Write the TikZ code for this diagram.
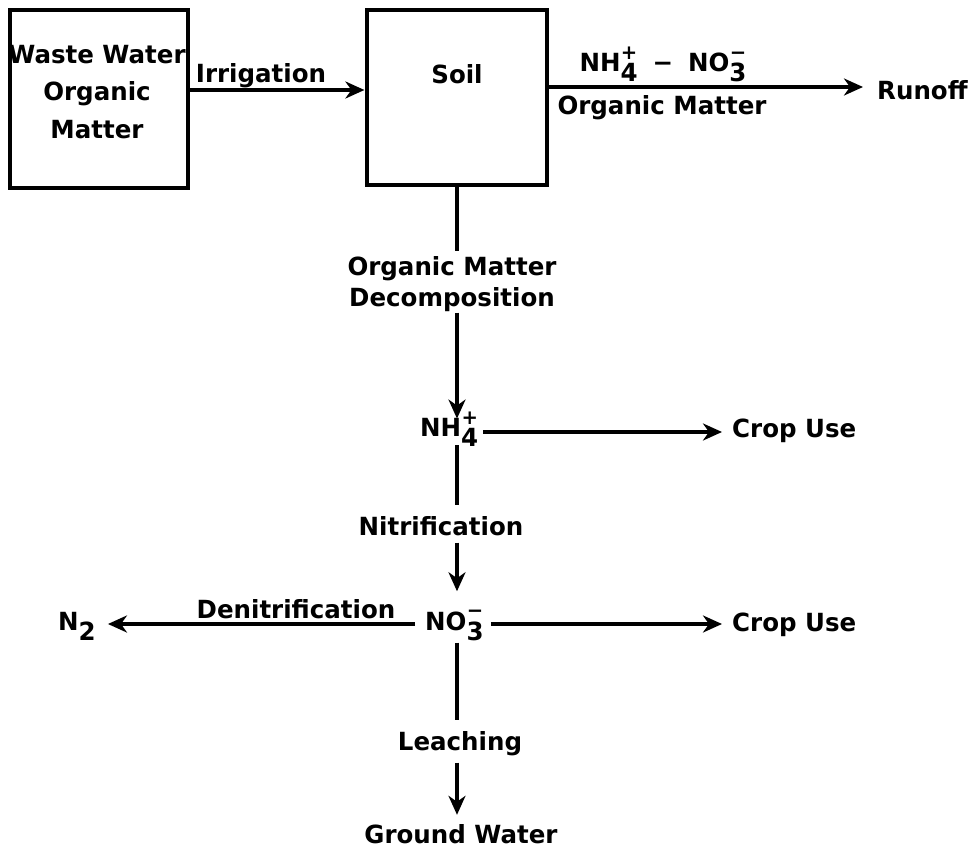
\documentclass[tikz,border=0pt]{standalone}
\usepackage{fontspec}
\setmainfont{DejaVu Sans Bold}[FakeStretch=0.98]
\usetikzlibrary{arrows.meta,calc}
\newcommand{\ionx}[3]{#1\mbox{\ooalign{\raisebox{-0.4em}{#2}\cr\hfil\raisebox{0.5em}{\fontsize{20}{20}\selectfont #3}\hfil\cr}}}
\tikzset{
  lbl/.style={font=\fontsize{25}{37.5}\selectfont, inner sep=0pt, align=center},
  boxx/.style={draw, line width=3.2pt},
  ln/.style={line width=3.2pt},
  arr/.style={line width=3.2pt, -{Stealth[length=19pt,width=17pt,inset=6pt]}},
}
\begin{document}
\begin{tikzpicture}[x=1pt,y=-1pt]
\useasboundingbox (0,0) rectangle (978,850);
\coordinate (axis) at (457,0);
% boxes
\node[boxx, minimum width=178pt, minimum height=178pt, inner sep=0pt] (ww) at (99,99) {};
\node[lbl, anchor=north] (wwtxt) at (97,45) {Waste Water\\Organic\\Matter};
\node[boxx, minimum width=180pt, minimum height=175pt, inner sep=0pt] (soil) at (457,97.5) {};
\node[lbl, anchor=base] (soiltxt) at (457,84) {Soil};
% irrigation
\node[lbl, anchor=base] (irr) at (261,83) {Irrigation};
\draw[arr, shorten >=1pt] (ww.east |- 0,90) -- (soil.west |- 0,90);
% runoff
\node[lbl, anchor=base west] (runoff) at (877,100) {Runoff};
\draw[arr, shorten >=14pt] (soil.east |- 0,87) -- (runoff.west |- 0,87);
\node[lbl, anchor=base] (ionsrun) at (663,72) {\ionx{NH}{4}{+}\hspace{0.6em}−\hspace{0.6em}\ionx{NO}{3}{−}};
\node[lbl, anchor=base] (omrun) at (662,115) {Organic Matter};
% decomposition
\node[lbl, anchor=north, font=\fontsize{25}{31}\selectfont] (omd) at (452,256) {Organic Matter\\Decomposition};
\node[lbl, anchor=base west] (nh4) at (420,437) {\ionx{NH}{4}{+}};
\draw[ln, shorten >=5pt] (soil.south -| axis) -- (omd.north -| axis);
\draw[arr, shorten <=1pt] (omd.south -| axis) -- (nh4.north -| axis);
% crop use 1
\node[lbl, anchor=base west] (cu1) at (732,438) {Crop Use};
\draw[arr, shorten <=5pt, shorten >=10pt] (nh4.east |- 0,432) -- (cu1.west |- 0,432);
% nitrification
\node[lbl, anchor=base] (nitr) at (441,535) {Nitrification};
\node[lbl, anchor=base west] (no3) at (425,630) {\ionx{NO}{3}{−}};
\draw[ln, shorten <=8pt, shorten >=11pt] (nh4.south -| axis) -- (nitr.north -| axis);
\draw[arr, shorten <=7pt, shorten >=20pt] (nitr.south -| axis) -- (no3.north -| axis);
% denitrification
\node[lbl, anchor=base west] (n2) at (58,630) {N\raisebox{-0.4em}{2}};
\node[lbl, anchor=base] (denit) at (296,618) {Denitrification};
\draw[arr, shorten <=10pt, shorten >=12pt] (no3.west |- 0,624) -- (n2.east |- 0,624);
% crop use 2
\node[lbl, anchor=base west] (cu2) at (732,631) {Crop Use};
\draw[arr, shorten <=7pt, shorten >=10pt] (no3.east |- 0,624) -- (cu2.west |- 0,624);
% leaching
\node[lbl, anchor=base] (leach) at (460,750) {Leaching};
\node[lbl, anchor=base] (gw) at (461,843) {Ground Water};
\draw[ln, shorten <=12pt, shorten >=11pt] (no3.south -| axis) -- (leach.north -| axis);
\draw[arr, shorten <=7pt, shorten >=9pt] (leach.south -| axis) -- (gw.north -| axis);
\end{tikzpicture}
\end{document}
